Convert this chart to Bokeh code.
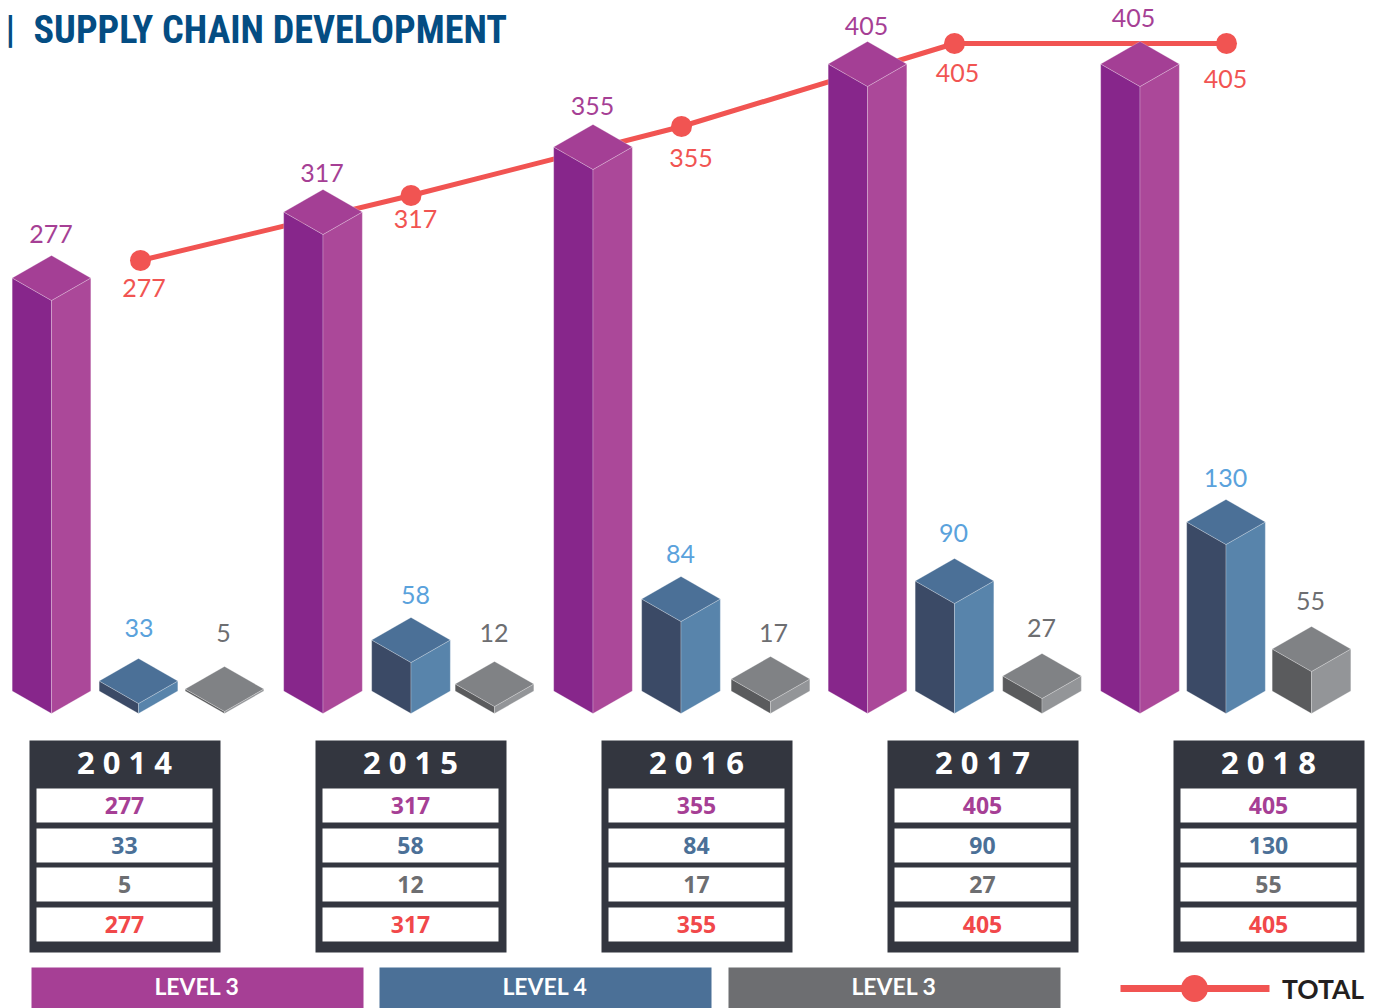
from bokeh.plotting import figure
from bokeh.embed import file_html
from bokeh.resources import INLINE
from bokeh.core.properties import value
from bokeh.models import Range1d
import numpy as np

# ---- data ----
years = ["2014", "2015", "2016", "2017", "2018"]
level3_a = [277, 317, 355, 405, 405]
level4 = [33, 58, 84, 90, 130]
level3_b = [5, 12, 17, 27, 55]
total = [277, 317, 355, 405, 405]
legend_labels = ["LEVEL 3", "LEVEL 4", "LEVEL 3"]
title = "SUPPLY CHAIN DEVELOPMENT"

# ---- layout (page pixels) ----
W, H = 1375, 1008
BASE = 713
HALF = 39.3
SLANT = 22.5
cx_a = [51, 322.5, 592.5, 867, 1139.5]
cx_b = [138, 410.5, 680.5, 954, 1225.5]
cx_c = [224, 494, 770, 1041.5, 1311]
cx_t = [140, 410.5, 681, 954, 1226]
lbl_a = [(50.5, 233), (321.5, 172), (592, 105), (866, 25), (1133, 17)]
lbl_b = [(138.5, 627), (415, 594), (680, 553), (953, 532), (1225, 477)]
lbl_c = [(223, 632), (493.5, 632), (773, 632), (1041, 627), (1310, 600)]
lbl_t = [(143.5, 287), (415, 218), (690.5, 157), (957, 72), (1225, 78)]
table_x = [29, 315, 601, 887, 1173]
row_y = [(788, 822), (828, 862), (867, 901), (907, 941)]
legend_x = [(31, 363), (379, 711), (728, 1060)]

# the source graphic's bars are not drawn to a common linear scale, so each
# series has its own value-to-pixels calibration
def scale_a(v):
    return np.interp(v, [0, 277, 317, 355, 405], [0, 413, 479, 544, 627])
def scale_b(v):
    return np.interp(v, [0, 33, 58, 84, 90, 130], [0, 10, 51, 92, 110, 169])
def scale_c(v):
    return np.interp(v, [0, 5, 12, 17, 27, 55], [0, 2, 7, 12, 15, 42])
def scale_t(v):
    return np.interp(v, [277, 317, 355, 405], [260, 195, 126, 43])

PURPLE = ("#87268b", "#ab4899", "#a43f95")
BLUE = ("#3b4a66", "#5884ab", "#4b7097")
GREY = ("#5a5b5d", "#939598", "#808285")
RED = "#f15452"
DARK = "#33363f"
LEGEND = ["#a63f95", "#4b7097", "#6d6e71"]

p = figure(width=W, height=H, x_range=Range1d(0, W), y_range=Range1d(H, 0),
           toolbar_location=None, output_backend="svg", min_border=0,
           outline_line_color=None, background_fill_color="white",
           styles={"position": "absolute", "left": "0px", "top": "0px"})
p.axis.visible = False
p.grid.visible = False

# total line (behind the bars)
ty = scale_t(total)
p.line(cx_t, ty, line_color=RED, line_width=5)
p.scatter(cx_t, ty, size=21, marker="circle", fill_color=RED, line_color=None)


def bars(cxs, values, scale, cols):
    for cx, v in zip(cxs, values):
        h = float(scale(v))
        top = BASE - h
        edge = dict(line_color="#ffffff", line_alpha=0.3, line_width=0.8)
        p.patch([cx - HALF, cx, cx, cx - HALF], [BASE - SLANT, BASE, top, top - SLANT], fill_color=cols[0], **edge)
        p.patch([cx, cx + HALF, cx + HALF, cx], [BASE, BASE - SLANT, top - SLANT, top], fill_color=cols[1], **edge)
        p.patch([cx, cx + HALF, cx, cx - HALF], [top, top - SLANT, top - 2 * SLANT, top - SLANT], fill_color=cols[2], **edge)


bars(cx_a, level3_a, scale_a, PURPLE)
bars(cx_b, level4, scale_b, BLUE)
bars(cx_c, level3_b, scale_c, GREY)


def labels(pos, vals, color):
    p.text([q[0] for q in pos], [q[1] for q in pos], text=[str(v) for v in vals],
           text_color=color, text_font=value("Lato"), text_font_size="25px",
           text_align="center", text_baseline="middle")


labels(lbl_a, level3_a, "#a63f95")
labels(lbl_b, level4, "#5aa2dc")
labels(lbl_c, level3_b, "#6d6e71")
labels(lbl_t, total, RED)

# title
title_font = value("Roboto Condensed, DejaVu Sans Condensed, Lato")
p.text([5], [29.5], text=["|"], text_color="#044d83", text_font=title_font,
       text_font_size="38px", text_font_style="bold", text_baseline="alphabetic", text_align="left")
p.text([33], [29.5], text=[title], text_color="#044d83", text_font=title_font,
       text_font_size="38.2px", text_font_style="bold", text_baseline="alphabetic", text_align="left")

# tables
tx = np.array(table_x, dtype=float)
p.quad(left=tx, right=tx + 191, top=[740] * 5, bottom=[952] * 5, fill_color=DARK, line_color=None)
row_colors = ["#a63f95", "#4b7097", "#6d6e71", "#f1484a"]
for (y0, y1), series, col in zip(row_y, [level3_a, level4, level3_b, total], row_colors):
    p.quad(left=tx + 7, right=tx + 183, top=[y0] * 5, bottom=[y1] * 5, fill_color="white", line_color=None)
    p.text(tx + 95, [(y0 + y1) / 2] * 5, text=[str(v) for v in series], text_color=col,
           text_font=value("Open Sans"), text_font_style="bold", text_font_size="23px",
           text_align="center", text_baseline="middle")
p.text(tx + 95, [761] * 5, text=[" ".join(y) for y in years], text_color="white",
       text_font=value("Open Sans"), text_font_style="bold", text_font_size="31px",
       text_align="center", text_baseline="middle")

# legend
for (x0, x1), lab, col in zip(legend_x, legend_labels, LEGEND):
    p.quad(left=[x0], right=[x1], top=[967], bottom=[1008], fill_color=col, line_color=None)
    p.text([(x0 + x1) / 2 - 0.5], [985.5], text=[lab], text_color="white", text_font=value("Lato"),
           text_font_style="bold", text_font_size="23px", text_align="center", text_baseline="middle")
p.line([1120, 1269], [988, 988], line_color=RED, line_width=7)
p.scatter([1194], [988], size=27, marker="circle", fill_color=RED, line_color=None)
p.text([1322.5], [988], text=["TOTAL"], text_color="#231f20", text_font=value("Lato"),
       text_font_size="26.5px", text_font_style="bold", text_align="center", text_baseline="middle")

open("out.html", "w").write(file_html(p, INLINE))
